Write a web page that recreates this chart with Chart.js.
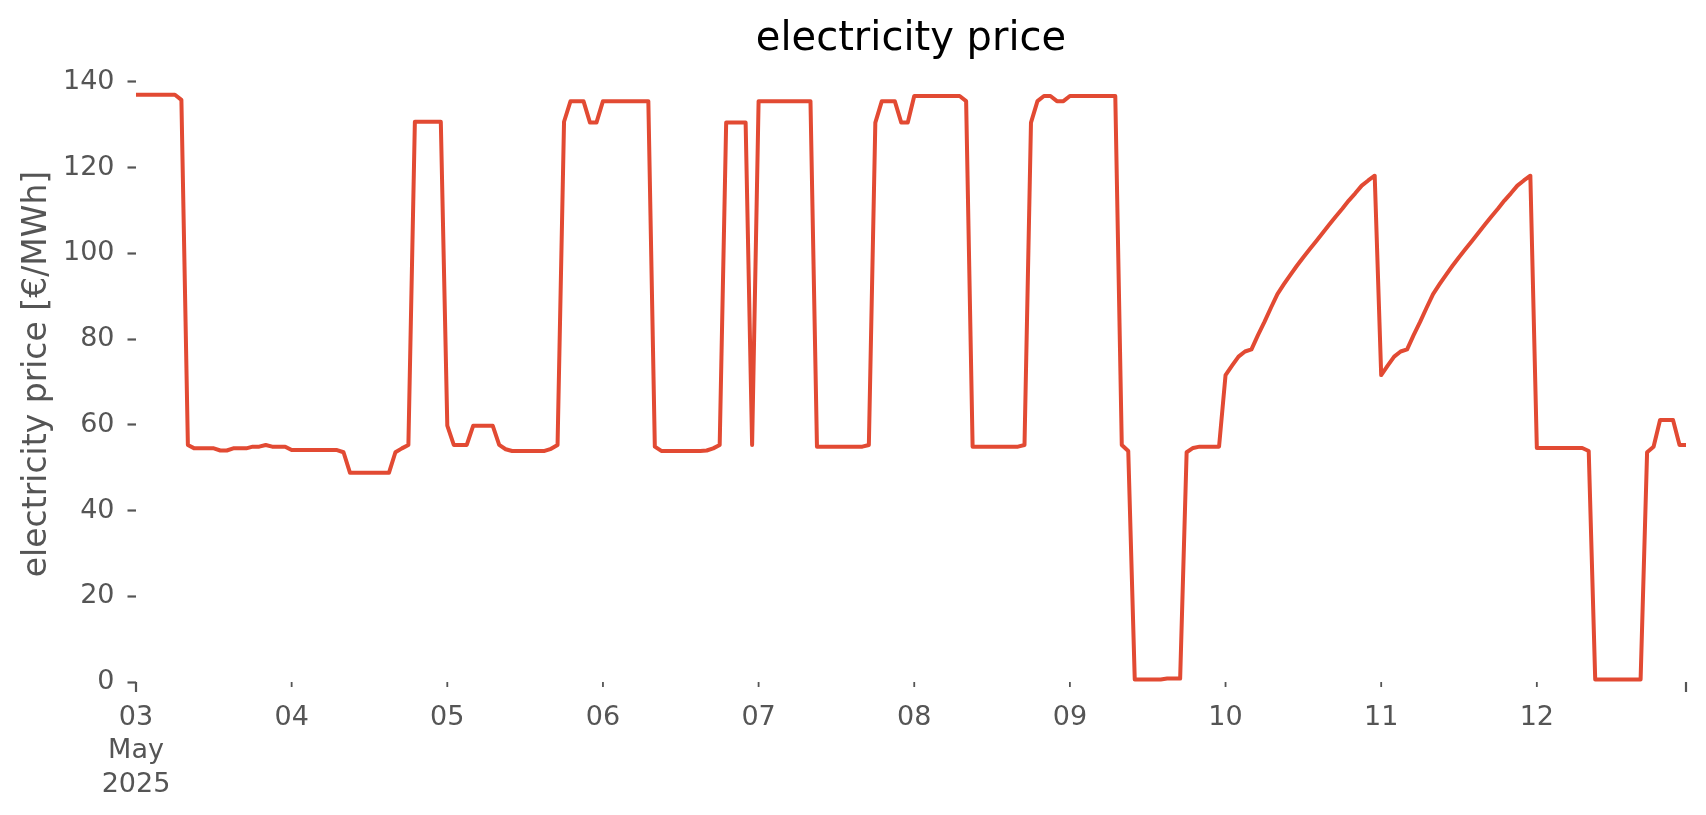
<!DOCTYPE html>
<html>
<head>
<meta charset="utf-8">
<script src="https://cdn.jsdelivr.net/npm/chart.js"></script>
<style>
  html, body { margin: 0; padding: 0; background: #ffffff; }
  #wrap { width: 1706px; height: 815px; }
</style>
</head>
<body>
<div id="wrap"><canvas id="c" width="1706" height="815"></canvas></div>
<script>
// ---- data (hourly prices, €/MWh) ----
const day03 = [137, 137, 137, 137, 137, 137, 137, 135.8, 55.3, 54.5, 54.5, 54.5, 54.5, 54.0, 54.0, 54.5, 54.5, 54.5, 54.9, 54.9, 55.3, 54.9, 54.9, 54.9];
const day04 = [54.1, 54.1, 54.1, 54.1, 54.1, 54.1, 54.1, 54.1, 53.6, 48.8, 48.8, 48.8, 48.8, 48.8, 48.8, 48.8, 53.6, 54.5, 55.3, 130.7, 130.7, 130.7, 130.7, 130.7];
const day05 = [59.8, 55.3, 55.3, 55.3, 59.8, 59.8, 59.8, 59.8, 55.3, 54.3, 53.9, 53.9, 53.9, 53.9, 53.9, 53.9, 54.4, 55.3, 130.7, 135.5, 135.5, 135.5, 130.5, 130.5];
const day06 = [135.5, 135.5, 135.5, 135.5, 135.5, 135.5, 135.5, 135.5, 54.9, 53.9, 53.9, 53.9, 53.9, 53.9, 53.9, 53.9, 54.0, 54.5, 55.3, 130.5, 130.5, 130.5, 130.5, 55.3];
const day07 = [135.5, 135.5, 135.5, 135.5, 135.5, 135.5, 135.5, 135.5, 135.5, 54.9, 54.9, 54.9, 54.9, 54.9, 54.9, 54.9, 54.9, 55.3, 130.5, 135.5, 135.5, 135.5, 130.5, 130.5];
const day08 = [136.7, 136.7, 136.7, 136.7, 136.7, 136.7, 136.7, 136.7, 135.5, 54.9, 54.9, 54.9, 54.9, 54.9, 54.9, 54.9, 54.9, 55.3, 130.5, 135.5, 136.7, 136.7, 135.5, 135.5];
const day09 = [136.7, 136.7, 136.7, 136.7, 136.7, 136.7, 136.7, 136.7, 55.3, 53.9, 0.6, 0.6, 0.6, 0.6, 0.6, 0.8, 0.8, 0.8, 53.6, 54.6, 54.9, 54.9, 54.9, 54.9];
const day10 = [71.6, 73.8, 75.9, 77.1, 77.6, 80.9, 84.0, 87.3, 90.5, 92.8, 95.0, 97.1, 99.1, 101.0, 102.9, 104.8, 106.7, 108.6, 110.4, 112.3, 114.0, 115.8, 117.0, 118.1];
const day11 = [71.6, 73.8, 75.9, 77.1, 77.6, 80.9, 84.0, 87.3, 90.5, 92.8, 95.0, 97.1, 99.1, 101.0, 102.9, 104.8, 106.7, 108.6, 110.4, 112.3, 114.0, 115.8, 117.0, 118.1];
const day12 = [54.6, 54.6, 54.6, 54.6, 54.6, 54.6, 54.6, 54.6, 53.9, 0.6, 0.6, 0.6, 0.6, 0.6, 0.6, 0.6, 0.6, 53.6, 54.9, 61.1, 61.1, 61.1, 55.3, 55.3];

// ---- tick definitions ----
const xTickHours  = [0, 24, 48, 72, 96, 120, 144, 168, 192, 216, 239];
const xTickLabels = [["03", "May", "2025"], "04", "05", "06", "07", "08", "09", "10", "11", "12", ""];
const xMajorTickHours = [0, 239];
const yTickValues = [0, 20, 40, 60, 80, 100, 120, 140];

const chartTitle = "electricity price";
const yAxisTitle = "electricity price [€/MWh]";

const prices = [].concat(day03, day04, day05, day06, day07, day08, day09, day10, day11, day12);
const points = prices.map((v, i) => ({ x: i, y: v }));

const FONT = "'DejaVu Sans', 'Liberation Sans', sans-serif";
const GREY = "#555555";

const titlePlugin = {
  id: "mplTitle",
  afterDraw(chart) {
    const { ctx, chartArea: a } = chart;
    ctx.save();
    ctx.font = "40px " + FONT;
    ctx.fillStyle = "#000000";
    ctx.textAlign = "center";
    ctx.textBaseline = "alphabetic";
    ctx.fillText(chartTitle, (a.left + a.right) / 2, a.top - 16);
    ctx.restore();
  }
};

const xTickPlugin = {
  id: "mplXTicks",
  afterDraw(chart) {
    const s = chart.scales.x;
    const ctx = chart.ctx;
    const y0 = chart.chartArea.bottom;
    ctx.save();
    ctx.strokeStyle = GREY;
    s.ticks.forEach(t => {
      const major = xMajorTickHours.includes(t.value);
      const px = s.getPixelForValue(t.value);
      ctx.lineWidth = major ? 2.2 : 1.8;
      ctx.beginPath();
      ctx.moveTo(px, y0);
      ctx.lineTo(px, y0 + (major ? 10 : 5));
      ctx.stroke();
    });
    ctx.restore();
  }
};

new Chart(document.getElementById("c").getContext("2d"), {
  type: "line",
  data: {
    datasets: [{
      data: points,
      borderColor: "#E24A33",
      borderWidth: 4,
      pointRadius: 0,
      tension: 0,
      fill: false,
      borderJoinStyle: "round",
      borderCapStyle: "butt"
    }]
  },
  options: {
    responsive: false,
    animation: false,
    devicePixelRatio: 1,
    layout: { padding: { left: 0, right: 20, top: 66, bottom: 0 } },
    plugins: {
      legend: { display: false },
      tooltip: { enabled: false },
      title: { display: false }
    },
    scales: {
      x: {
        type: "linear",
        min: 0,
        max: 239,
        afterBuildTicks: s => { s.ticks = xTickHours.map(v => ({ value: v })); },
        afterFit: s => { s.height = 815 - 682; },
        grid: { display: true, drawOnChartArea: false, tickLength: 9, tickColor: "rgba(0,0,0,0)" },
        border: { display: false },
        ticks: {
          autoSkip: false,
          maxRotation: 0,
          minRotation: 0,
          padding: 10,
          color: GREY,
          font: { family: FONT, size: 27, lineHeight: 1.24 },
          callback: (v, i) => xTickLabels[i]
        }
      },
      y: {
        type: "linear",
        min: 0,
        max: 143.7,
        afterBuildTicks: s => { s.ticks = yTickValues.map(v => ({ value: v })); },
        afterFit: s => { s.width = 136; },
        grid: { display: true, drawOnChartArea: false, tickLength: 8.5, tickWidth: 2.2, tickColor: GREY },
        border: { display: false },
        ticks: {
          padding: 13,
          color: GREY,
          font: { family: FONT, size: 27 },
          callback: v => String(v)
        },
        title: {
          display: true,
          text: yAxisTitle,
          color: GREY,
          font: { family: FONT, size: 33 },
          padding: { top: 18, bottom: 0 }
        }
      }
    }
  },
  plugins: [titlePlugin, xTickPlugin]
});
</script>
</body>
</html>
